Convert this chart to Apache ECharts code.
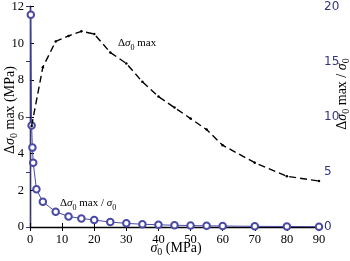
<!DOCTYPE html>
<html><head><meta charset="utf-8">
<script src="https://cdn.jsdelivr.net/npm/echarts@6/dist/echarts.min.js"></script>
<style>html,body{margin:0;padding:0;background:#fff}#c{width:350px;height:261px}</style>
</head><body><div id="c"></div>
<script>
const sigmaX = [0.5,4,8,12,16,20,25,30,35,40,45,50,55,60,70,80,90];
const dMax = [5.5,8.7,10.1,10.4,10.65,10.5,9.5,8.9,7.9,7.1,6.5,5.9,5.3,4.45,3.5,2.76,2.5];
const ratioX = [0.25,0.5,0.75,1,2,4,8,12,16,20,25,30,35,40,45,50,55,60,70,80,90];
const ratio = [19.25,9.2,7.2,5.83,3.42,2.28,1.38,0.95,0.78,0.63,0.45,0.33,0.25,0.2,0.16,0.13,0.11,0.09,0.06,0.045,0.03];
const xTicks = {min:0,max:90,interval:10};
const yLeftTicks = {min:0,max:12,interval:2};
const yRightTicks = {min:0,max:20,interval:5};

const BLUE = '#4a4aa6';
const NAVY = '#35357f';
const FONT = 'Liberation Serif';
function richStyle(color, size){
  return {
    n:{fontFamily:FONT,fontSize:size,color:color,lineHeight:18,verticalAlign:'middle'},
    i:{fontFamily:FONT,fontSize:size,fontStyle:'italic',color:color,lineHeight:18,verticalAlign:'middle'},
    s:{fontFamily:FONT,fontSize:Math.round(size*0.72),color:color,lineHeight:10,verticalAlign:'bottom'}
  };
}
const chart = echarts.init(document.getElementById('c'));
const axisFont = {fontFamily:FONT,fontSize:12.5,color:'#000'};
chart.setOption({
  animation:false,
  grid:{left:30,right:31,top:4,bottom:34},
  xAxis:[{type:'value',position:'bottom',min:xTicks.min,max:xTicks.max,interval:xTicks.interval,
    axisLine:{lineStyle:{color:'#000',width:1.3}},axisTick:{inside:true,length:4,lineStyle:{color:'#000'}},
    axisLabel:Object.assign({margin:6},axisFont),splitLine:{show:false}},
    {type:'value',position:'top',min:xTicks.min,max:xTicks.max,interval:xTicks.interval,
    axisLine:{lineStyle:{color:'#000',width:1}},axisTick:{inside:true,length:4,lineStyle:{color:'#000'}},
    axisLabel:{show:false},splitLine:{show:false}}],
  yAxis:[{type:'value',position:'left',min:yLeftTicks.min,max:yLeftTicks.max,interval:yLeftTicks.interval,
    axisLine:{show:true,lineStyle:{color:'#000',width:1.3}},axisTick:{show:true,inside:true,length:4,lineStyle:{color:'#000'}},
    axisLabel:Object.assign({margin:6},axisFont),splitLine:{show:false}},
    {type:'value',position:'right',min:yRightTicks.min,max:yRightTicks.max,interval:yRightTicks.interval,
    axisLine:{show:true,lineStyle:{color:NAVY,width:1.3}},axisTick:{show:true,inside:true,length:4,lineStyle:{color:NAVY}},
    axisLabel:{margin:5,fontFamily:'DejaVu Sans',fontSize:12,color:NAVY},splitLine:{show:false}}],
  series:[
    {type:'line',xAxisIndex:0,yAxisIndex:0,data:sigmaX.map((x,i)=>[x,dMax[i]]),
     lineStyle:{color:'#000',width:1.4,type:[7,4]},itemStyle:{color:'#000'},symbol:'circle',symbolSize:2.5,z:3},
    {type:'line',xAxisIndex:0,yAxisIndex:1,data:ratioX.map((x,i)=>[x,ratio[i]]),
     lineStyle:{color:BLUE,width:1},itemStyle:{color:BLUE,borderWidth:1},symbol:'emptyCircle',symbolSize:6.5,z:2}
  ],
  graphic:[
    {type:'text',x:10,y:110,rotation:Math.PI/2,style:{text:'{n|Δ}{i|σ}{s|0}{n| max (MPa)}',rich:richStyle('#000',14),align:'center',verticalAlign:'middle'}},
    {type:'text',x:342,y:94,rotation:Math.PI/2,style:{text:'{n|Δ}{i|σ}{s|0}{n| max / }{i|σ}{s|0}',rich:richStyle(NAVY,14),align:'center',verticalAlign:'middle'}},
    {type:'text',x:176,y:248,style:{text:'{i|σ}{s|0}{n| (MPa)}',rich:richStyle('#000',14),align:'center',verticalAlign:'middle'}},
    {type:'text',x:118,y:43,style:{text:'{n|Δ}{i|σ}{s|0}{n| max}',rich:richStyle('#000',11),align:'left',verticalAlign:'middle'}},
    {type:'text',x:60,y:203,style:{text:'{n|Δ}{i|σ}{s|0}{n| max / }{i|σ}{s|0}',rich:richStyle(BLUE,11),align:'left',verticalAlign:'middle'}}
  ]
});
</script></body></html>
